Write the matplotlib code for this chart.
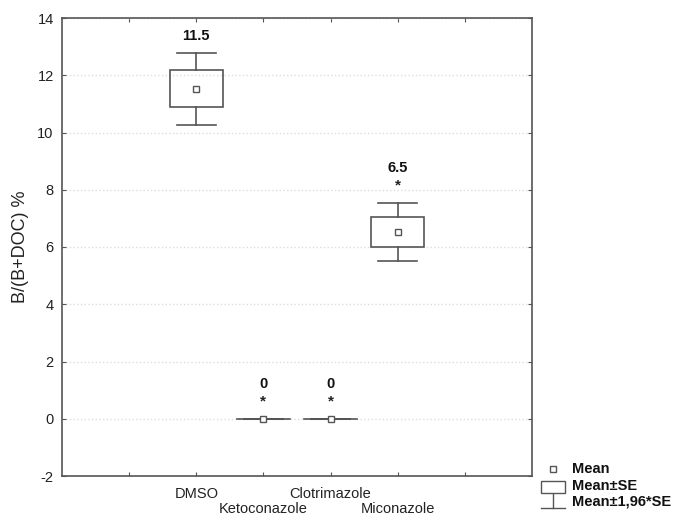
import matplotlib
matplotlib.use("Agg")
import matplotlib.pyplot as plt
from matplotlib.patches import Rectangle
from matplotlib.lines import Line2D
import numpy as np

categories = ["DMSO", "Ketoconazole", "Clotrimazole", "Miconazole"]
positions = [2, 3, 4, 5]
means = [11.53, 0.0, 0.0, 6.52]
se = [0.64, 0.0, 0.0, 0.52]
value_labels = ["11.5", "0", "0", "6.5"]
significant = [False, True, True, True]

plt.rcParams['font.family'] = ['Liberation Sans', 'DejaVu Sans']
plt.rcParams['axes.unicode_minus'] = False

W, H = 681, 515
fig = plt.figure(figsize=(W / 100, H / 100), dpi=100)
ax = fig.add_axes([62 / W, 1 - 476 / H, (532 - 62) / W, (476 - 18) / H])

edge = "#555555"
box_w = 0.79
cap_w = 0.58

for x, m, s, lab, sig in zip(positions, means, se, value_labels, significant):
    lo, hi = m - s, m + s
    wlo, whi = m - 1.96 * s, m + 1.96 * s
    # whiskers
    ax.plot([x, x], [hi, whi], color=edge, lw=1.2, zorder=3)
    ax.plot([x, x], [wlo, lo], color=edge, lw=1.2, zorder=3)
    ax.plot([x - cap_w / 2, x + cap_w / 2], [whi, whi], color=edge, lw=1.2, zorder=3)
    ax.plot([x - cap_w / 2, x + cap_w / 2], [wlo, wlo], color=edge, lw=1.2, zorder=3)
    if s > 0:
        ax.add_patch(Rectangle((x - box_w / 2, lo), box_w, hi - lo, fill=False,
                               edgecolor=edge, lw=1.2, zorder=3))
    else:
        ax.plot([x - box_w / 2, x + box_w / 2], [m, m], color=edge, lw=1.2, zorder=3)
    ax.plot([x], [m], marker="s", ms=5, mfc="white", mec=edge, mew=1.0, zorder=4)
    if sig:
        ax.text(x, whi + 0.6, "*", ha="center", va="center", fontsize=11,
                fontweight="bold", color="#222222")
        ax.text(x, whi + 1.22, lab, ha="center", va="center", fontsize=10.5,
                fontweight="bold", color="#111111")
    else:
        ax.text(x, whi + 0.6, lab, ha="center", va="center", fontsize=10.5,
                fontweight="bold", color="#111111")

ax.set_xlim(0, 7)
ax.set_ylim(-2, 14)
ax.set_yticks(np.arange(-2, 15, 2))
ax.set_xticks([1, 2, 3, 4, 5, 6])
ax.set_xticklabels([""] + categories + [""], fontsize=10.5)
ax.tick_params(axis="both", direction="in", length=3, color=edge,
               top=True, right=True, labelsize=10.5, labelcolor="#222222")
ax.tick_params(axis="x", pad=8)
ax.tick_params(axis="y", pad=6)
# staggered category labels
for i, t in enumerate(ax.xaxis.get_major_ticks()):
    if i in (2, 4):
        t.set_pad(19)
ax.grid(axis="y", color="#dddddd", linestyle=":", lw=1.0)
ax.set_axisbelow(True)
for sp in ax.spines.values():
    sp.set_color(edge)
    sp.set_linewidth(1.2)

ax.set_ylabel("B/(B+DOC) %", fontsize=13, color="#222222")
ax.yaxis.set_label_coords(-0.071, 0.5)


# legend outside the axes, in pixel positions
def fx(px):
    return px / W


def fy(py):
    return 1 - py / H


fig.add_artist(Line2D([fx(553)], [fy(469)], marker="s", ms=5, mfc="white",
                      mec=edge, mew=1.0, transform=fig.transFigure))
fig.add_artist(Rectangle((fx(541), fy(493)), fx(565) - fx(541), fy(481) - fy(493),
                         fill=False, edgecolor=edge, lw=1.0, transform=fig.transFigure))
fig.add_artist(Line2D([fx(553), fx(553)], [fy(494), fy(508)], color=edge, lw=1.0,
                      transform=fig.transFigure))
fig.add_artist(Line2D([fx(541), fx(565)], [fy(508), fy(508)], color=edge, lw=1.0,
                      transform=fig.transFigure))
for py, txt in [(469, "Mean"), (486, "Mean\u00b1SE"), (502, "Mean\u00b11,96*SE")]:
    fig.text(fx(572), fy(py), txt, ha="left", va="center", fontsize=10.5,
             fontweight="bold", color="#111111")

fig.savefig("out.png", dpi=100)
